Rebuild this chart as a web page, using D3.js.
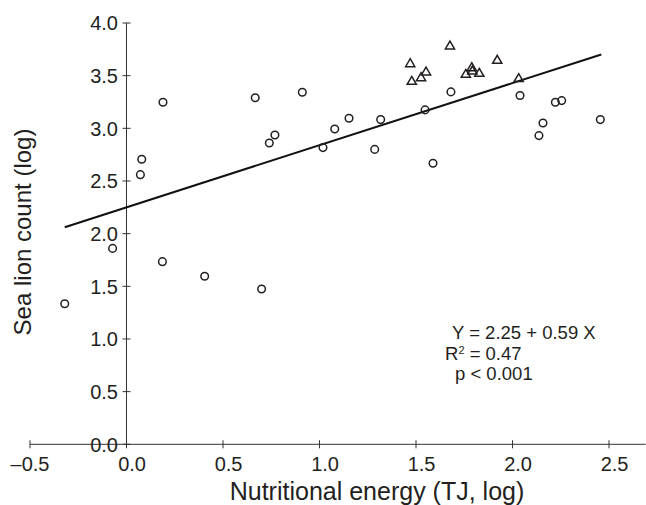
<!DOCTYPE html>
<html>
<head>
<meta charset="utf-8">
<script src="https://cdn.jsdelivr.net/npm/d3@7"></script>
<style>
  html, body { margin: 0; padding: 0; background: #fff; }
  svg { display: block; }
  text { font-family: "Liberation Sans", Arial, Helvetica, sans-serif; fill: #231f20; }
</style>
</head>
<body>
<svg id="chart" width="646" height="505"></svg>
<script>
// ---- data ----
const circleX = [0.189, 0.079, 0.072, -0.072, 0.186, 0.405, -0.320, 0.700, 0.667, 0.911, 0.769, 0.740, 1.018, 1.079, 1.153, 1.317, 1.286, 1.547, 1.681, 2.039, 2.222, 2.255, 2.158, 2.137, 2.455, 1.588];
const circleY = [3.248, 2.707, 2.560, 1.860, 1.734, 1.595, 1.335, 1.475, 3.290, 3.343, 2.937, 2.861, 2.817, 2.994, 3.096, 3.083, 2.800, 3.175, 3.346, 3.311, 3.248, 3.263, 3.051, 2.931, 3.083, 2.669];
const triX = [1.470, 1.478, 1.552, 1.526, 1.676, 1.789, 1.758, 1.792, 1.828, 1.921, 2.032];
const triY = [3.618, 3.450, 3.539, 3.485, 3.786, 3.580, 3.517, 3.548, 3.526, 3.650, 3.476];
const fitIntercept = 2.25;
const fitSlope = 0.59;
const fitRange = [-0.32, 2.46];
const xTicks = [-0.5, 0, 0.5, 1, 1.5, 2, 2.5];
const xTickLabels = ["\u20130.5", "0.0", "0.5", "1.0", "1.5", "2.0", "2.5"];
const yTicks = [0, 0.5, 1, 1.5, 2, 2.5, 3, 3.5, 4];
const yTickLabels = ["0.0", "0.5", "1.0", "1.5", "2.0", "2.5", "3.0", "3.5", "4.0"];
const xTitle = "Nutritional energy (TJ, log)";
const yTitle = "Sea lion count (log)";
const annotation = ["Y = 2.25 + 0.59 X", "R", "p < 0.001"];

// ---- layout ----
const svg = d3.select("#chart");
const x = d3.scaleLinear().domain([-0.5, 2.5]).range([30, 609]);
const y = d3.scaleLinear().domain([0, 4]).range([444.3, 23]);
const axisColor = "#333";

// x axis
const xAxis = svg.append("g").attr("transform", `translate(0,${y(0)})`);
xAxis.append("line").attr("x1", x(-0.5)).attr("x2", x(2.69)).attr("stroke", axisColor).attr("stroke-width", 1);
xAxis.selectAll("line.tick").data(xTicks).join("line")
  .attr("class", "tick")
  .attr("x1", d => x(d)).attr("x2", d => x(d))
  .attr("y1", -4).attr("y2", 4)
  .attr("stroke", axisColor).attr("stroke-width", 1);
xAxis.selectAll("text").data(xTicks).join("text")
  .attr("x", d => x(d) + 19.5).attr("y", 27)
  .attr("text-anchor", "end")
  .style("font-size", "20px")
  .text((d, i) => xTickLabels[i]);

// y axis
const yAxis = svg.append("g").attr("transform", `translate(${x(0)},0)`);
yAxis.append("line").attr("y1", y(0)).attr("y2", y(4)).attr("stroke", axisColor).attr("stroke-width", 1);
yAxis.selectAll("line.tick").data(yTicks).join("line")
  .attr("class", "tick")
  .attr("x1", -4).attr("x2", 4)
  .attr("y1", d => y(d)).attr("y2", d => y(d))
  .attr("stroke", axisColor).attr("stroke-width", 1);
yAxis.selectAll("text").data(yTicks).join("text")
  .attr("x", -8.5).attr("y", d => y(d))
  .attr("dy", "0.37em")
  .attr("text-anchor", "end")
  .style("font-size", "20px")
  .text((d, i) => yTickLabels[i]);

// axis titles
svg.append("text")
  .attr("x", 377).attr("y", 500)
  .attr("text-anchor", "middle")
  .style("font-size", "25px")
  .text(xTitle);
svg.append("text")
  .attr("transform", "translate(31,232) rotate(-90)")
  .attr("text-anchor", "middle")
  .style("font-size", "24px")
  .text(yTitle);

// regression line
svg.append("line")
  .attr("x1", x(fitRange[0])).attr("y1", y(fitIntercept + fitSlope * fitRange[0]))
  .attr("x2", x(fitRange[1])).attr("y2", y(fitIntercept + fitSlope * fitRange[1]))
  .attr("stroke", "#111").attr("stroke-width", 2);

// circles
const circles = circleX.map((v, i) => ({ x: v, y: circleY[i] }));
svg.append("g").selectAll("circle").data(circles).join("circle")
  .attr("cx", d => x(d.x)).attr("cy", d => y(d.y)).attr("r", 3.8)
  .attr("fill", "none").attr("stroke", "#231f20").attr("stroke-width", 1.5);

// triangles
const tris = triX.map((v, i) => ({ x: v, y: triY[i] }));
const triPath = "M0,-4.5 L4.6,3.4 L-4.6,3.4 Z";
svg.append("g").selectAll("path").data(tris).join("path")
  .attr("transform", d => `translate(${x(d.x)},${y(d.y)})`)
  .attr("d", triPath)
  .attr("fill", "none").attr("stroke", "#231f20").attr("stroke-width", 1.5)
  .attr("stroke-linejoin", "miter");

// annotation
const ann = svg.append("g").style("font-size", "18.5px");
ann.append("text").attr("x", 452).attr("y", 339).text(annotation[0]);
const r2 = ann.append("text").attr("x", 445).attr("y", 359.5);
r2.append("tspan").text(annotation[1]);
r2.append("tspan").attr("dy", -6).style("font-size", "11px").text("2");
r2.append("tspan").attr("dy", 6).text(" = 0.47");
ann.append("text").attr("x", 455).attr("y", 380).text(annotation[2]);
</script>
</body>
</html>
